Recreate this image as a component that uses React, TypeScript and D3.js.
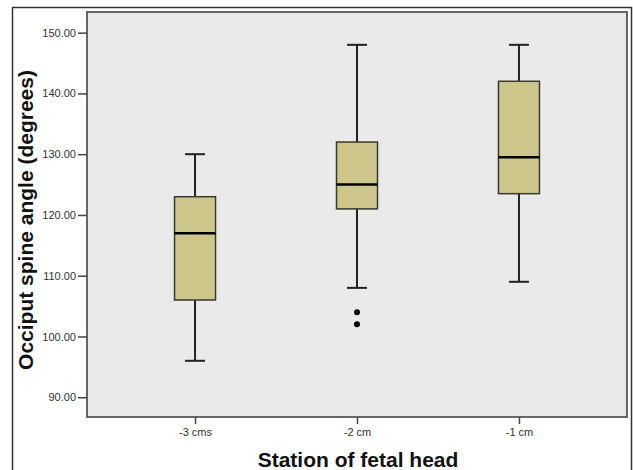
import React, { useEffect, useRef } from 'react';
import * as d3 from 'd3';

// stations of fetal head and five-number summaries
const stations = ['-3 cms', '-2 cm', '-1 cm'];
const whiskerLow = [96, 108, 109];
const quartile1 = [106, 121, 123.5];
const medians = [117, 125, 129.5];
const quartile3 = [123, 132, 142];
const whiskerHigh = [130, 148, 148];
const outlierStation = ['-2 cm', '-2 cm'];
const outlierValue = [104, 102];
const yTicks = [90, 100, 110, 120, 130, 140, 150];

const W = 633;
const H = 470;

function drawChart(node: SVGSVGElement) {
  const svg = d3.select(node);
  svg.selectAll('*').remove();

  const plot = { left: 87, top: 12, right: 627, bottom: 417 };

  const x = d3.scalePoint<string>()
    .domain(stations)
    .range([plot.left, plot.right])
    .padding(0.667);
  const y = d3.scaleLinear()
    .domain([86.75, 153.4])
    .range([plot.bottom, plot.top]);

  // outer frame
  svg.append('rect')
    .attr('x', 12.5).attr('y', 7.5)
    .attr('width', 619).attr('height', 470)
    .attr('fill', '#fff')
    .attr('stroke', '#333').attr('stroke-width', 1.5);

  // plot area
  svg.append('rect')
    .attr('x', plot.left).attr('y', plot.top)
    .attr('width', plot.right - plot.left).attr('height', plot.bottom - plot.top)
    .attr('fill', '#eaeaea')
    .attr('stroke', '#666').attr('stroke-width', 2);

  const yAxis = d3.axisLeft(y)
    .tickValues(yTicks)
    .tickFormat(d3.format('.2f'))
    .tickSizeInner(9)
    .tickSizeOuter(0)
    .tickPadding(2);
  const gy = svg.append('g')
    .attr('transform', 'translate(' + plot.left + ',0)')
    .call(yAxis);
  gy.select('.domain').remove();
  gy.selectAll('line').attr('stroke', '#444').attr('stroke-width', 1.5);
  gy.selectAll('text')
    .attr('fill', '#333')
    .style('font-family', 'Arial, "Liberation Sans", sans-serif')
    .style('font-size', '11px');

  const xAxis = d3.axisBottom(x)
    .tickSizeInner(7)
    .tickSizeOuter(0)
    .tickPadding(4);
  const gx = svg.append('g')
    .attr('transform', 'translate(0,' + plot.bottom + ')')
    .call(xAxis);
  gx.select('.domain').remove();
  gx.selectAll('line').attr('stroke', '#444').attr('stroke-width', 1.5);
  gx.selectAll('text')
    .attr('fill', '#333')
    .style('font-family', 'Arial, "Liberation Sans", sans-serif')
    .style('font-size', '11px');

  const boxW = 41;
  const capW = 20;
  const boxes = svg.append('g')
    .selectAll('g')
    .data(stations)
    .enter()
    .append('g');

  // whiskers
  boxes.append('line')
    .attr('x1', (d) => x(d)!).attr('x2', (d) => x(d)!)
    .attr('y1', (d, i) => y(whiskerHigh[i])).attr('y2', (d, i) => y(quartile3[i]))
    .attr('stroke', '#222').attr('stroke-width', 2);
  boxes.append('line')
    .attr('x1', (d) => x(d)!).attr('x2', (d) => x(d)!)
    .attr('y1', (d, i) => y(quartile1[i])).attr('y2', (d, i) => y(whiskerLow[i]))
    .attr('stroke', '#222').attr('stroke-width', 2);
  boxes.append('line')
    .attr('x1', (d) => x(d)! - capW / 2).attr('x2', (d) => x(d)! + capW / 2)
    .attr('y1', (d, i) => y(whiskerHigh[i])).attr('y2', (d, i) => y(whiskerHigh[i]))
    .attr('stroke', '#222').attr('stroke-width', 2);
  boxes.append('line')
    .attr('x1', (d) => x(d)! - capW / 2).attr('x2', (d) => x(d)! + capW / 2)
    .attr('y1', (d, i) => y(whiskerLow[i])).attr('y2', (d, i) => y(whiskerLow[i]))
    .attr('stroke', '#222').attr('stroke-width', 2);

  // boxes
  boxes.append('rect')
    .attr('x', (d) => x(d)! - boxW / 2)
    .attr('y', (d, i) => y(quartile3[i]))
    .attr('width', boxW)
    .attr('height', (d, i) => y(quartile1[i]) - y(quartile3[i]))
    .attr('fill', '#ccc68a')
    .attr('stroke', '#3a3a30').attr('stroke-width', 1.5);

  // medians
  boxes.append('line')
    .attr('x1', (d) => x(d)! - boxW / 2).attr('x2', (d) => x(d)! + boxW / 2)
    .attr('y1', (d, i) => y(medians[i])).attr('y2', (d, i) => y(medians[i]))
    .attr('stroke', '#000').attr('stroke-width', 2.5);

  // outliers
  svg.append('g')
    .selectAll('circle')
    .data(outlierValue)
    .enter()
    .append('circle')
    .attr('cx', (d, i) => x(outlierStation[i])!)
    .attr('cy', (d) => y(d))
    .attr('r', 3)
    .attr('fill', '#000');

  // axis titles
  svg.append('text')
    .text('Station of fetal head')
    .attr('x', 358).attr('y', 467)
    .style('text-anchor', 'middle')
    .style('font-family', 'Arial, "Liberation Sans", sans-serif')
    .style('font-weight', 'bold')
    .style('font-size', '21px')
    .attr('fill', '#111');
  svg.append('text')
    .text('Occiput spine angle (degrees)')
    .attr('transform', 'translate(33,220) rotate(-90)')
    .style('text-anchor', 'middle')
    .style('font-family', 'Arial, "Liberation Sans", sans-serif')
    .style('font-weight', 'bold')
    .style('font-size', '21px')
    .attr('fill', '#111');
}

export default function App() {
  const ref = useRef<SVGSVGElement>(null);
  useEffect(() => {
    if (ref.current) drawChart(ref.current);
  }, []);
  return (
    <svg ref={ref} width={W} height={H}
      style={{ position: 'absolute', left: 0, top: 0, background: '#fff' }} />
  );
}
